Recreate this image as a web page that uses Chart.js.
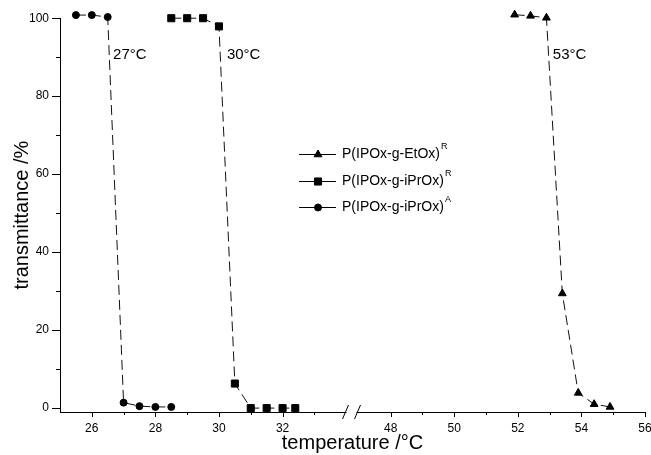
<!DOCTYPE html>
<html>
<head>
<meta charset="utf-8">
<script src="https://cdn.jsdelivr.net/npm/chart.js@4.4.1/dist/chart.umd.min.js"></script>
<style>
  html, body { margin: 0; padding: 0; background: #fff; }
</style>
</head>
<body>
<canvas id="grafico" width="651" height="455"></canvas>
<script>
// temperatura (°C) e transmitância (%) de cada série
const tempEtOxR = [51.9, 52.4, 52.9, 53.4, 53.9, 54.4, 54.9];
const transEtOxR = [100.9, 100.6, 100.1, 29.4, 3.9, 1.0, 0.3];
const tempIPrOxR = [28.5, 29.0, 29.5, 30.0, 30.5, 31.0, 31.5, 32.0, 32.4];
const transIPrOxR = [100, 100, 100, 97.9, 6.3, 0, 0, 0, 0];
const tempIPrOxA = [25.5, 26.0, 26.5, 27.0, 27.5, 28.0, 28.5];
const transIPrOxA = [100.8, 100.8, 100.3, 1.4, 0.5, 0.3, 0.3];

const nomesSeries = ['P(IPOx-g-EtOx)', 'P(IPOx-g-iPrOx)', 'P(IPOx-g-iPrOx)'];
const expoentes = ['R', 'R', 'A'];
const marcadores = ['triangle', 'rect', 'circle'];
const raios = [4.5, 5, 3.5];

// temperaturas de turvação anotadas junto às quedas
const rotulosLCST = ['27°C', '30°C', '53°C'];
const tempRotulos = [26.67, 30.25, 53.1];
const transRotulos = [90.6, 90.6, 90.6];

// eixo x partido entre 34.2 e 46.8 °C
const quebraIni = 34.2;
const quebraFim = 46.8;
const ticksX = [26, 28, 30, 32, 48, 50, 52, 54, 56];
const ticksXMenores = [27, 29, 31, 33, 49, 51, 53, 55];
const ticksY = [0, 20, 40, 60, 80, 100];
const ticksYMenores = [10, 30, 50, 70, 90];

const salto = quebraFim - quebraIni;
const comprimir = (t) => (t <= quebraIni ? t : t - salto);
const descomprimir = (c) => (c <= quebraIni ? c : c + salto);

const FONTE = "'Liberation Sans', Arial, sans-serif";
Chart.defaults.font.family = FONTE;
Chart.defaults.color = '#000';

const pontos = (temps, vals) => temps.map((t, i) => ({ x: comprimir(t), y: vals[i] }));

const serie = (dados, i) => ({
    label: nomesSeries[i] + expoentes[i],
    data: dados,
    showLine: true,
    borderColor: '#111',
    borderWidth: 1,
    borderDash: [10, 5],
    backgroundColor: '#000',
    pointBackgroundColor: '#000',
    pointBorderColor: '#000',
    pointStyle: marcadores[i],
    pointRadius: raios[i],
    pointBorderWidth: 1,
    clip: false
});

function marcador(ctx, estilo, raio, x, y) {
    ctx.fillStyle = '#000';
    ctx.strokeStyle = '#000';
    ctx.lineWidth = 1;
    ctx.setLineDash([]);
    if (Chart.helpers && Chart.helpers.drawPoint) {
        Chart.helpers.drawPoint(ctx, { pointStyle: estilo, radius: raio, rotation: 0, borderWidth: 1 }, x, y);
        return;
    }
    ctx.beginPath();
    if (estilo === 'circle') ctx.arc(x, y, raio, 0, Math.PI * 2);
    else if (estilo === 'rect') ctx.rect(x - raio * 0.707, y - raio * 0.707, raio * 1.414, raio * 1.414);
    else { ctx.moveTo(x, y - raio); ctx.lineTo(x + raio * 0.866, y + raio / 2); ctx.lineTo(x - raio * 0.866, y + raio / 2); ctx.closePath(); }
    ctx.fill();
    ctx.stroke();
}

// marcas dos eixos, quebra, anotações e legenda
const extras = {
    id: 'extras',
    afterDraw(chart) {
        const { ctx, chartArea } = chart;
        const sx = chart.scales.x;
        const sy = chart.scales.y;
        ctx.save();
        ctx.strokeStyle = '#000';
        ctx.lineWidth = 1;
        ctx.setLineDash([]);

        const esq = chartArea.left;
        const base = chartArea.bottom;
        ctx.beginPath();
        ticksY.forEach(v => { const p = Math.round(sy.getPixelForValue(v)) + 0.5; ctx.moveTo(esq - 8, p); ctx.lineTo(esq, p); });
        ticksYMenores.forEach(v => { const p = Math.round(sy.getPixelForValue(v)) + 0.5; ctx.moveTo(esq - 4, p); ctx.lineTo(esq, p); });
        ticksX.forEach(v => { const p = Math.round(sx.getPixelForValue(comprimir(v))) + 0.5; ctx.moveTo(p, base); ctx.lineTo(p, base + 5); });
        ticksXMenores.forEach(v => { const p = Math.round(sx.getPixelForValue(comprimir(v))) + 0.5; ctx.moveTo(p, base); ctx.lineTo(p, base + 3); });
        ctx.stroke();

        // quebra do eixo x
        const pq = sx.getPixelForValue(quebraIni);
        ctx.fillStyle = '#fff';
        ctx.fillRect(pq - 6, base - 2, 10, 5);
        ctx.beginPath();
        [pq - 7, pq + 5].forEach(cx => { ctx.moveTo(cx - 3, base + 7); ctx.lineTo(cx + 3, base - 7); });
        ctx.stroke();

        // temperaturas de transição
        ctx.fillStyle = '#000';
        ctx.font = '15px ' + FONTE;
        ctx.textBaseline = 'middle';
        ctx.textAlign = 'left';
        rotulosLCST.forEach((txt, i) => {
            ctx.fillText(txt, sx.getPixelForValue(comprimir(tempRotulos[i])), sy.getPixelForValue(transRotulos[i]));
        });

        // legenda
        const linhas = [154, 181, 207];
        nomesSeries.forEach((nome, i) => {
            const y = linhas[i];
            ctx.strokeStyle = '#000';
            ctx.lineWidth = 1;
            ctx.setLineDash([]);
            ctx.beginPath();
            ctx.moveTo(299, y + 0.5);
            ctx.lineTo(336, y + 0.5);
            ctx.stroke();
            marcador(ctx, marcadores[i], raios[i], 318, y + 0.5);
            ctx.fillStyle = '#000';
            ctx.font = '14px ' + FONTE;
            ctx.textBaseline = 'middle';
            ctx.fillText(nome, 342, y);
            const w = ctx.measureText(nome).width;
            ctx.font = '9px ' + FONTE;
            ctx.fillText(expoentes[i], 342 + w + 1, y - 7);
        });
        ctx.restore();
    }
};

new Chart(document.getElementById('grafico'), {
    type: 'scatter',
    data: {
        datasets: [
            serie(pontos(tempEtOxR, transEtOxR), 0),
            serie(pontos(tempIPrOxR, transIPrOxR), 1),
            serie(pontos(tempIPrOxA, transIPrOxA), 2)
        ]
    },
    options: {
        responsive: false,
        animation: false,
        devicePixelRatio: 1,
        layout: { padding: { left: 0, right: 6, top: 14, bottom: 0 } },
        plugins: { legend: { display: false }, tooltip: { enabled: false } },
        scales: {
            x: {
                type: 'linear',
                min: 25,
                max: comprimir(56),
                grid: { display: false, drawTicks: false },
                border: { display: true, color: '#000', width: 1 },
                afterBuildTicks: (s) => { s.ticks = ticksX.map(t => ({ value: comprimir(t) })); },
                afterFit: (s) => { s.height = 43; s.paddingLeft = 0; s.paddingRight = 0; },
                ticks: {
                    autoSkip: false,
                    maxRotation: 0,
                    padding: 9,
                    font: { size: 12 },
                    callback: (v) => String(Math.round(descomprimir(v)))
                },
                title: { display: true, text: 'temperature /°C', font: { size: 20 }, padding: { top: 0, bottom: 0 } }
            },
            y: {
                min: -1,
                max: 100,
                grid: { display: false, drawTicks: false },
                border: { display: true, color: '#000', width: 1 },
                afterBuildTicks: (s) => { s.ticks = ticksY.map(v => ({ value: v })); },
                afterFit: (s) => { s.width = 60; },
                ticks: { padding: 11, font: { size: 12 } },
                title: { display: true, text: 'transmittance /%', font: { size: 20 }, padding: { top: 10, bottom: 0 } }
            }
        }
    },
    plugins: [extras]
});
</script>
</body>
</html>
